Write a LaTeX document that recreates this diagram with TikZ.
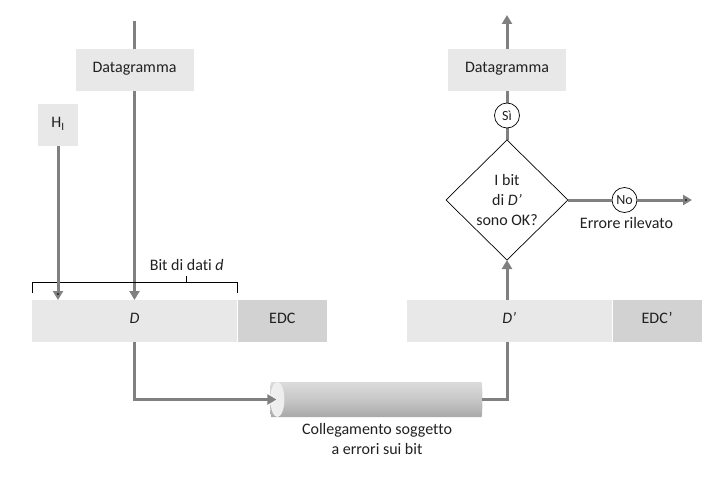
\documentclass[tikz,border=0pt]{standalone}
\usepackage{fontspec}
\setmainfont{Carlito}[Ligatures=NoCommon]
\usepackage{tikz}
\usetikzlibrary{arrows.meta, backgrounds, calc, positioning, shapes.geometric}

\definecolor{linegray}{HTML}{808080}
\definecolor{boxgray}{HTML}{E8E8E8}
\definecolor{edcgray}{HTML}{D2D2D2}
\definecolor{ink}{HTML}{231F20}

\begin{document}
\begin{tikzpicture}[x=1pt,y=-1pt,font=\fontsize{16}{20}\selectfont,text=ink]
\tikzset{every node/.style={inner sep=1pt, outer sep=0mm}}

\tikzstyle{field}=[rectangle,fill=boxgray,minimum width=205pt,minimum height=42pt,text height=1.5ex,text depth=.25ex]
\tikzstyle{check}=[rectangle,fill=edcgray,minimum width=89pt,minimum height=42pt,text height=1.5ex,text depth=.25ex]
\tikzstyle{label box}=[rectangle,fill=boxgray,minimum width=118pt,minimum height=42pt,text height=1.5ex,text depth=.25ex]
\tikzstyle{decision}=[diamond,draw=black,fill=white,line width=0.7pt,minimum width=122pt,minimum height=120pt,inner sep=0pt,align=center]
\tikzstyle{answer}=[circle,draw=black,fill=white,line width=0.7pt,minimum size=25pt,inner sep=0pt,font=\fontsize{14}{16}\selectfont]
\tikzstyle{link}=[cylinder,shape border rotate=180,aspect=0.8,minimum width=35pt,minimum height=212pt,
  top color=gray!28,bottom color=gray!68,middle color=gray!44,
  path picture={\shade[left color=gray!12,right color=gray!42] ([xshift=7pt]path picture bounding box.west) ellipse (7pt and 17.5pt);}]
\tikzstyle{line}=[draw=linegray,line width=3pt]
\tikzstyle{post}=[->,draw=linegray,line width=3pt,>={Triangle[width=10pt,length=9pt]}]
\tikzstyle{bracket}=[draw=black,line width=0.7pt]

\useasboundingbox (0,0) rectangle (726,495);

% sender side
\node[field] (dbox) at (134.5,321) {\textit{D}};
\node[check, right=0.8pt of dbox] (edc) {EDC};
\node[label box, above=209pt of dbox] (dgram in) {Datagramma};
\node[label box, minimum width=40pt, above right=154pt and 6pt of dbox.north west] (hi) {H\textsubscript{I}};
\coordinate[above=28pt of dgram in.north] (dgram start);

% bracket over the data bits
\draw[bracket] ($(dbox.north west)+(0,-7)$) |- ($(dbox.north east)+(0,-18)$) -- ++(0,11);
\coordinate (bit mid) at ($(dbox.north west)!0.755!(dbox.north east)+(0,-18)$);
\draw[bracket] (bit mid) -- ++(0,-6);
\node[above=10pt of bit mid] (bit label) {Bit di dati \textit{d}};

% link
\node[link] (cyl) at (377,399.5) {};
\node[below=5pt of cyl, align=center] (cyl label) {Collegamento soggetto\\a errori sui bit};

% receiver side
\node[field, right=80pt of edc] (dpbox) {\textit{D’}};
\node[check, right=0.8pt of dpbox] (edcp) {EDC’};
\node[decision] (ok) at (507,200) {I bit\\di \textit{D’}\\sono OK?};
\node[answer, above=12pt of ok] (si) {Sì};
\node[label box, above=12pt of si] (dgram out) {Datagramma};
\coordinate[above=34pt of dgram out.north] (dgram end);
\node[answer, right=44pt of ok] (no) {No};
\coordinate[right=55pt of no] (err end);
\node[below=4pt of no, xshift=2pt] (err label) {Errore rilevato};

\begin{scope}[on background layer]
    \draw[post] (dgram start) -- (dbox.north);
    \draw[post] (ok.north) -- (dgram end);
\end{scope}

\path[post] (hi) edge (hi.south |- dbox.north);
\draw[post, shorten >=-6pt] (dbox.south) |- (cyl.west);
\draw[line] (cyl.east) -| (ok.south |- dpbox.south);
\draw[post] (ok.south |- dpbox.north) -- (ok.south);
\path[line] (ok) edge (no);
\path[post] (no) edge (err end);

\end{tikzpicture}
\end{document}
